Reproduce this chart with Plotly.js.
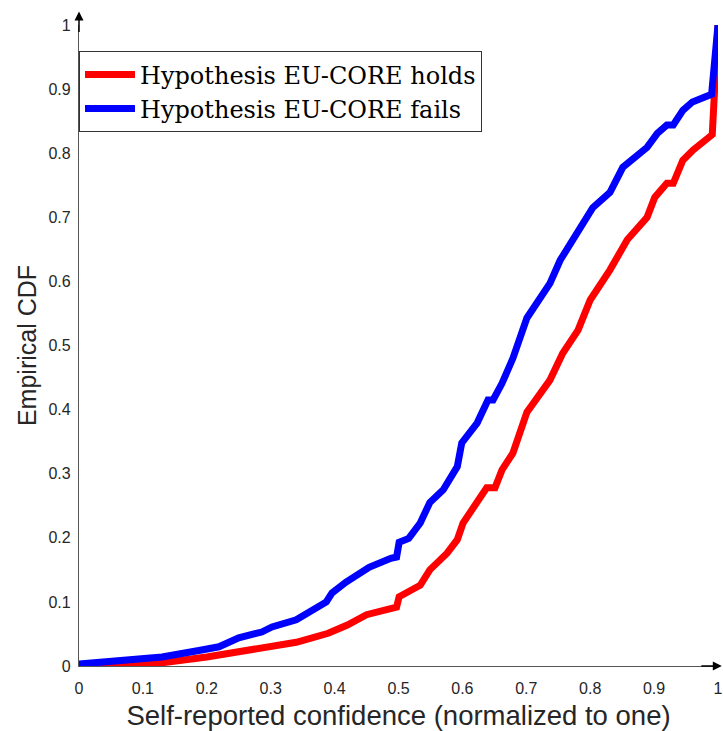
<!DOCTYPE html>
<html>
<head>
<meta charset="utf-8">
<script src="https://cdn.plot.ly/plotly-3.0.1.min.js"></script>
<style>html,body{margin:0;padding:0;background:#fff;}#chart{width:723px;height:731px;}</style>
</head>
<body>
<div id="chart"></div>
<script>
const holdsName = "Hypothesis EU-CORE holds";
const failsName = "Hypothesis EU-CORE fails";

const holdsX = [0, 0.13, 0.2, 0.26, 0.34, 0.39, 0.42, 0.45, 0.488, 0.497, 0.501, 0.516, 0.534, 0.549, 0.576, 0.592, 0.601, 0.638, 0.651, 0.662, 0.679, 0.701, 0.737, 0.757, 0.781, 0.8, 0.831, 0.858, 0.889, 0.901, 0.92, 0.93, 0.945, 0.961, 0.991, 1.0];
const holdsY = [0, 0.005, 0.014, 0.023, 0.037, 0.051, 0.064, 0.08, 0.091, 0.092, 0.108, 0.115, 0.126, 0.15, 0.176, 0.197, 0.223, 0.278, 0.278, 0.306, 0.332, 0.396, 0.446, 0.488, 0.524, 0.571, 0.618, 0.665, 0.7, 0.731, 0.753, 0.753, 0.789, 0.805, 0.829, 1.0];

const failsX = [0, 0.13, 0.192, 0.219, 0.25, 0.286, 0.302, 0.34, 0.387, 0.396, 0.418, 0.454, 0.488, 0.497, 0.501, 0.516, 0.534, 0.549, 0.57, 0.592, 0.599, 0.623, 0.64, 0.648, 0.662, 0.679, 0.701, 0.721, 0.737, 0.753, 0.784, 0.804, 0.831, 0.851, 0.889, 0.905, 0.92, 0.93, 0.945, 0.96, 0.99, 1.0];
const failsY = [0.003, 0.014, 0.025, 0.03, 0.044, 0.053, 0.061, 0.072, 0.1, 0.114, 0.131, 0.154, 0.168, 0.17, 0.193, 0.199, 0.223, 0.255, 0.275, 0.311, 0.348, 0.379, 0.415, 0.415, 0.441, 0.48, 0.543, 0.571, 0.597, 0.633, 0.68, 0.715, 0.739, 0.778, 0.809, 0.831, 0.844, 0.844, 0.867, 0.88, 0.892, 1.0];

const tickVals = [0, 0.1, 0.2, 0.3, 0.4, 0.5, 0.6, 0.7, 0.8, 0.9, 1];
const tickText = ["0", "0.1", "0.2", "0.3", "0.4", "0.5", "0.6", "0.7", "0.8", "0.9", "1"];

const traces = [
  {x: holdsX, y: holdsY, name: holdsName, mode: 'lines', line: {color: '#ff0000', width: 7}},
  {x: failsX, y: failsY, name: failsName, mode: 'lines', line: {color: '#0000ff', width: 7}}
];

const axisCommon = {
  range: [0, 1], showgrid: false, zeroline: false, showline: true,
  linecolor: '#555555', linewidth: 1.2, ticks: '',
  tickvals: tickVals, ticktext: tickText,
  tickfont: {family: 'Liberation Sans, Arial, sans-serif', size: 16, color: '#262626'}
};

const layout = {
  width: 723, height: 731,
  margin: {l: 79, r: 5, t: 25, b: 65},
  paper_bgcolor: '#fff', plot_bgcolor: '#fff',
  showlegend: true,
  xaxis: Object.assign({}, axisCommon, {
    ticklabelstandoff: 8,
    title: {text: 'Self-reported confidence (normalized to one)', font: {family: 'Liberation Sans, Arial, sans-serif', size: 27.5, color: '#262626'}, standoff: 10}
  }),
  yaxis: Object.assign({}, axisCommon, {
    ticklabelstandoff: 4,
    title: {text: 'Empirical CDF', font: {family: 'Liberation Sans, Arial, sans-serif', size: 25, color: '#262626'}, standoff: 4}
  }),
  legend: {
    x: 0, y: 0.959, xanchor: 'left', yanchor: 'top',
    bgcolor: '#fff', bordercolor: '#333', borderwidth: 1,
    itemwidth: 50,
    font: {family: 'DejaVu Serif, Liberation Serif, serif', size: 24, color: '#000'}
  },
  annotations: [
    {xref: 'paper', yref: 'paper', x: 0, y: 1.021, ax: 0, ay: 22, text: '', showarrow: true, arrowhead: 2, arrowsize: 1.2, arrowwidth: 1.5, arrowcolor: '#000'},
    {xref: 'paper', yref: 'paper', x: 1.006, y: 0, ax: -22, ay: 0, text: '', showarrow: true, arrowhead: 2, arrowsize: 1.2, arrowwidth: 1.5, arrowcolor: '#000'}
  ]
};

Plotly.newPlot('chart', traces, layout, {displayModeBar: false});
</script>
</body>
</html>
